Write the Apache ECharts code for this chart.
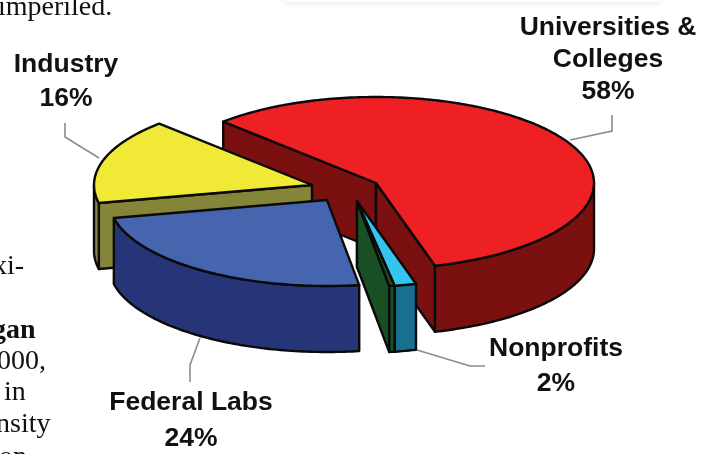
<!DOCTYPE html>
<html>
<head>
<meta charset="utf-8">
<title>Research share</title>
<script src="https://cdn.jsdelivr.net/npm/echarts@6/dist/echarts.min.js"></script>
<style>
  html, body { margin: 0; padding: 0; background: #fff; overflow: hidden; }
  #chart { width: 714px; height: 454px; filter: blur(0.4px); }
</style>
</head>
<body>
<div id="chart"></div>
<script>
// slices run clockwise from the back left of the pie
// the green sliver has no label of its own, it sits inside the 2% of nonprofits
const sectors = ['Universities & Colleges', 'Nonprofits', 'Nonprofits sliver', 'Federal Labs', 'Industry'];
const shares = [58, 1.6, 0.4, 24, 16];
const labelTexts = ['Universities &\nColleges\n58%', 'Nonprofits\n2%', 'Federal Labs\n24%', 'Industry\n16%'];

const RX = 218, RY = 86, DEPTH = 66, START = 225.5;
const topColors = ['#ee2024', '#35c4ef', '#1a4f25', '#4565ae', '#f0e935'];
const wallColors = ['#7a1010', '#17708f', '#1a4f25', '#263578', '#85853a'];
// where each exploded slice has its tip
const tips = [[376, 183], [357, 201], [357, 201], [327, 200], [312, 185]];
const drawOrder = [0, 1, 2, 4, 3];

const total = shares.reduce((a, b) => a + b, 0);
let running = START;
const spans = shares.map(v => {
  const s = running;
  running += v / total * 360;
  return [s, running];
});

function rad(d) { return d * Math.PI / 180; }

function arc(tip, a, b, down) {
  const pts = [];
  const n = Math.max(2, Math.ceil(Math.abs(b - a)));
  for (let i = 0; i <= n; i++) {
    const t = rad(a + (b - a) * i / n);
    pts.push([tip[0] + RX * Math.cos(t), tip[1] + RY * Math.sin(t) + down]);
  }
  return pts;
}

function face(points, fill) {
  return {
    type: 'polygon',
    shape: { points: points },
    style: { fill: fill, stroke: '#0a0a0a', lineWidth: 2.4, lineJoin: 'round' }
  };
}

function renderSlice(params, api) {
  const i = api.value(0);
  const tip = tips[i];
  const [s, e] = spans[i];
  const kids = [];
  // cut faces, only the ones turned to the viewer
  [[s, Math.cos(rad(s)) < 0], [e, Math.cos(rad(e)) > 0]].forEach(([ang, show]) => {
    if (!show) return;
    const o = arc(tip, ang, ang, 0)[0];
    kids.push(face([tip, o, [o[0], o[1] + DEPTH], [tip[0], tip[1] + DEPTH]], wallColors[i]));
  });
  // outer wall, front half only
  [[0, 180], [360, 540]].forEach(([lo, hi]) => {
    const a = Math.max(s, lo), b = Math.min(e, hi);
    if (b <= a) return;
    kids.push(face(arc(tip, a, b, 0).concat(arc(tip, b, a, DEPTH)), wallColors[i]));
  });
  kids.push(face([tip].concat(arc(tip, s, e, 0)), topColors[i]));
  return { type: 'group', children: kids };
}

function note(text, x, y, size, weight, family, align, lh) {
  return {
    type: 'text', x: x, y: y, silent: true,
    style: {
      text: text, fill: '#111', font: (weight || 'normal') + ' ' + size + 'px ' + family,
      textAlign: align || 'left', textVerticalAlign: 'middle', lineHeight: lh || 34
    }
  };
}

function leader(points) {
  return {
    type: 'polyline', silent: true, shape: { points: points },
    style: { stroke: '#8c8c8c', lineWidth: 1.6, fill: 'none' }
  };
}

const SANS = '"Liberation Sans", Arial, sans-serif';
const SERIF = '"Liberation Serif", serif';

const chart = echarts.init(document.getElementById('chart'), null, { renderer: 'canvas' });
chart.setOption({
  animation: false,
  backgroundColor: '#fff',
  graphic: [
    // edge of the box above the chart on the page
    {
      type: 'rect', silent: true, shape: { x: 285, y: -12, width: 375, height: 14 },
      style: { fill: '#fff', shadowColor: 'rgba(0,0,0,0.15)', shadowBlur: 6 }
    },
    leader([[612, 115], [612, 131], [570, 140]]),
    leader([[65, 123], [65, 137], [99, 158]]),
    leader([[200, 338], [190, 365], [190, 382]]),
    leader([[417, 350], [470, 366], [485, 366]]),
    note(labelTexts[0], 608, 60, 26.5, 'bold', SANS, 'center', 32),
    note(labelTexts[3], 66, 82, 26.5, 'bold', SANS, 'center', 34),
    note(labelTexts[1], 556, 366, 26.5, 'bold', SANS, 'center', 35),
    note(labelTexts[2], 191, 421, 26.5, 'bold', SANS, 'center', 36),
    note('imperiled.', -2, 8, 28, 'normal', SERIF),
    note('xi-', -7, 267, 28, 'normal', SERIF),
    note('gan', -8, 331, 28, 'bold', SERIF),
    note('000,', -3, 362, 28, 'normal', SERIF),
    note('in', 4, 393, 28, 'normal', SERIF),
    note('nsity', -4, 425, 28, 'normal', SERIF),
    note('on', -1, 458, 28, 'normal', SERIF)
  ],
  series: [{
    type: 'custom',
    coordinateSystem: 'none',
    silent: true,
    renderItem: renderSlice,
    data: drawOrder.map(i => ({ name: sectors[i], value: [i, shares[i]] }))
  }]
});
</script>
</body>
</html>
